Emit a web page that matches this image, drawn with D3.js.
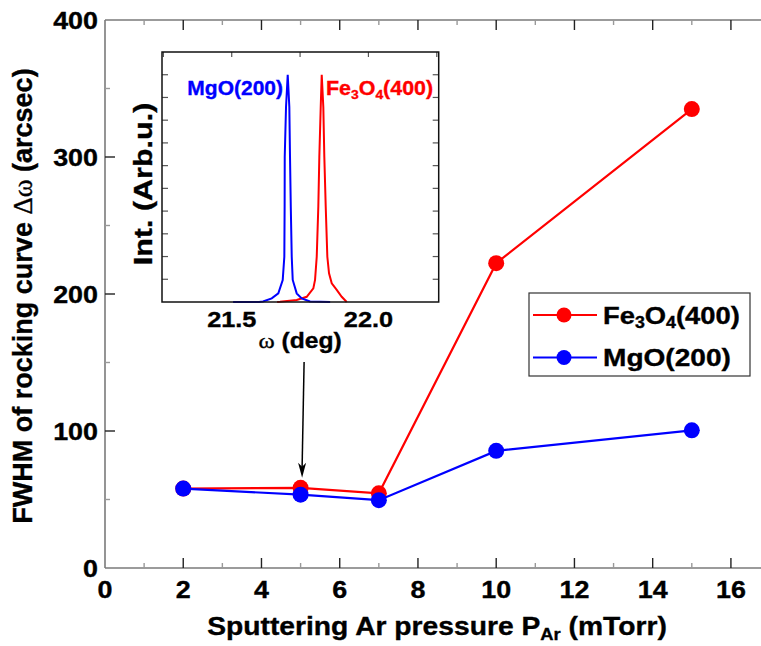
<!DOCTYPE html>
<html>
<head>
<meta charset="utf-8">
<script src="https://cdn.jsdelivr.net/npm/d3@7"></script>
<style>
  html, body { margin: 0; padding: 0; background: #fff; }
  svg { display: block; }
  text { font-family: "Liberation Sans", Arial, sans-serif; font-weight: bold; fill: #000; stroke: #000; stroke-width: 0.35px; }
</style>
</head>
<body>
<svg id="chart" width="761" height="646"></svg>
<script>
// Rocking-curve widths versus sputtering pressure
const pressure   = [2, 5, 7, 10, 15];
const fwhmFe3O4  = [58, 58.5, 54.5, 222.5, 335];
const fwhmMgO    = [58, 53.5, 49.5, 85.5, 100.5];
const xTickVals  = [0, 2, 4, 6, 8, 10, 12, 14, 16];
const yTickVals  = [0, 100, 200, 300, 400];

// Inset: rocking curves recorded at 5 mTorr (normalised intensity)
const mgoOmega = [21.505, 21.600, 21.6145, 21.6463, 21.6704, 21.6865, 21.6924, 21.6935, 21.6939, 21.6986, 21.7048,
                  21.7107, 21.7132, 21.716, 21.7195, 21.7231, 21.7377, 21.756, 21.7864, 21.860];
const mgoInt   = [0, 0, 0.02, 0.16, 0.38, 0.97, 1.99, 4.2, 6.38, 8.58, 10,
                  8.58, 6.38, 4.2, 1.99, 0.97, 0.38, 0.16, 0.02, 0];
const feOmega  = [21.666, 21.6767, 21.7377, 21.7743, 21.7985, 21.8047, 21.8109, 21.8167, 21.8204, 21.8255, 21.8292,
                  21.8350, 21.8387, 21.8438, 21.8497, 21.8559, 21.8658, 21.8840, 21.9023, 21.9206];
const feInt    = [0, 0.01, 0.09, 0.23, 0.60, 0.97, 1.99, 4.19, 6.38, 8.58, 10,
                  8.58, 6.38, 4.19, 1.99, 1.26, 0.82, 0.53, 0.23, 0];
const insetTickVals = [21.5, 22.0];

const RED = "#ff0000", BLUE = "#0000ff";
const svg = d3.select("#chart");

// horizontally stretched text helper
function label(parent, x, y, size, anchor, sx, fill) {
  const t = parent.append("text")
    .attr("transform", `translate(${x},${y}) scale(${sx},1)`)
    .attr("text-anchor", anchor)
    .style("font-size", size + "px");
  if (fill) t.style("fill", fill).style("stroke", fill);
  return t;
}
function chem(t, parts) {
  // parts: [text, isSubscript]
  parts.forEach(([s, sub]) => {
    const ts = t.append("tspan").text(s);
    if (sub) ts.attr("baseline-shift", "-30%").style("font-size", "65%");
  });
}

// ---------- main axes ----------
const x = d3.scaleLinear().domain([0, 17]).range([105, 105 + 17 * 39.12]);
const y = d3.scaleLinear().domain([0, 400]).range([568, 20]);
const AXIS = "#7a7a7a";

const g = svg.append("g");
// frame (right side lies beyond the canvas)
[[0, 0, 17, 0], [0, 400, 17, 400], [0, 0, 0, 400], [17, 0, 17, 400]].forEach(([a, b, c, d]) =>
  g.append("line").attr("x1", x(a)).attr("y1", y(b)).attr("x2", x(c)).attr("y2", y(d))
    .attr("stroke", AXIS).attr("stroke-width", 1.6));

const xMinor = d3.range(1, 17, 2);
const yMinor = d3.range(50, 400, 100);
// bottom and top ticks, pointing inward
[[y(0), -1], [y(400), 1]].forEach(([yy, dir]) => {
  xTickVals.filter(v => v > 0).forEach(v => g.append("line")
    .attr("x1", x(v)).attr("x2", x(v)).attr("y1", yy).attr("y2", yy + dir * 10)
    .attr("stroke", "#222").attr("stroke-width", 1.4));
  xMinor.forEach(v => g.append("line")
    .attr("x1", x(v)).attr("x2", x(v)).attr("y1", yy).attr("y2", yy + dir * 5)
    .attr("stroke", "#999").attr("stroke-width", 1.4));
});
yTickVals.filter(v => v > 0 && v < 400).forEach(v => g.append("line")
  .attr("x1", x(0)).attr("x2", x(0) + 10).attr("y1", y(v)).attr("y2", y(v))
  .attr("stroke", "#222").attr("stroke-width", 1.4));
yMinor.forEach(v => g.append("line")
  .attr("x1", x(0)).attr("x2", x(0) + 5).attr("y1", y(v)).attr("y2", y(v))
  .attr("stroke", "#999").attr("stroke-width", 1.4));

// tick labels
xTickVals.forEach(v => label(g, x(v), 598, 24, "middle", 1.12).text(v));
yTickVals.forEach(v => label(g, 98, y(v) + 8.5, 24, "end", 1.12).text(v));

// axis titles
const xt = label(g, 437, 635, 25, "middle", 1.13);
chem(xt, [["Sputtering Ar pressure P", false], ["Ar", true], [" (mTorr)", false]]);

const yt = g.append("text")
  .attr("transform", `translate(32,${(y(0) + y(400)) / 2 + 2}) rotate(-90)`)
  .attr("text-anchor", "middle").style("font-size", "27px");
yt.append("tspan").text("FWHM of rocking curve ");
yt.append("tspan").text("Δω").style("font-family", "'Liberation Serif', serif").style("font-weight", "normal");
yt.append("tspan").text(" (arcsec)");

// ---------- data ----------
const line = d3.line().x(d => x(d[0])).y(d => y(d[1]));
[[fwhmFe3O4, RED], [fwhmMgO, BLUE]].forEach(([vals, col]) => {
  const pts = pressure.map((p, i) => [p, vals[i]]);
  g.append("path").datum(pts).attr("d", line).attr("fill", "none").attr("stroke", col).attr("stroke-width", 2.2);
  g.selectAll(null).data(pts).enter().append("circle")
    .attr("cx", d => x(d[0])).attr("cy", d => y(d[1])).attr("r", 8).attr("fill", col);
});

// arrow pointing at the 5 mTorr sample
const ax = x(pressure[1]);
const tipY = y(fwhmFe3O4[1]) - 10;
g.append("line").attr("x1", ax + 3.5).attr("y1", 362).attr("x2", ax + 1.5).attr("y2", tipY - 10)
  .attr("stroke", "#000").attr("stroke-width", 1.5);
g.append("path")
  .attr("d", `M${ax + 1.5},${tipY} L${ax - 2.5},${tipY - 15} L${ax + 1.5},${tipY - 11} L${ax + 5.5},${tipY - 15} Z`)
  .attr("fill", "#000");

// ---------- legend ----------
const lg = svg.append("g");
lg.append("rect").attr("x", 529).attr("y", 293).attr("width", 221).attr("height", 83)
  .attr("fill", "#fff").attr("stroke", "#333").attr("stroke-width", 1.2);
[[RED, 315, 1.14, [["Fe", false], ["3", true], ["O", false], ["4", true], ["(400)", false]]],
 [BLUE, 357.5, 1.17, [["MgO(200)", false]]]].forEach(([col, yy, sx, parts]) => {
  lg.append("line").attr("x1", 533).attr("x2", 597).attr("y1", yy).attr("y2", yy).attr("stroke", col).attr("stroke-width", 2.2);
  lg.append("circle").attr("cx", 564).attr("cy", yy).attr("r", 7.5).attr("fill", col);
  chem(label(lg, 603, yy + 8.5, 24, "start", sx), parts);
});

// ---------- inset ----------
const ix = d3.scaleLinear().domain([21.245, 22.257]).range([162, 438.7]);
const iy = d3.scaleLinear().domain([0, 11]).range([302, 52]);
const ig = svg.append("g");
ig.append("rect").attr("x", 162).attr("y", 52).attr("width", 438.7 - 162).attr("height", 250).attr("fill", "#fff");

// side ticks
d3.range(1, 11).forEach(v => {
  ig.append("line").attr("x1", 162).attr("x2", 168).attr("y1", iy(v)).attr("y2", iy(v)).attr("stroke", "#555").attr("stroke-width", 1.2);
  ig.append("line").attr("x1", 438.7).attr("x2", 432.7).attr("y1", iy(v)).attr("y2", iy(v)).attr("stroke", "#555").attr("stroke-width", 1.2);
});
[21.25, 21.5, 21.75, 22.0, 22.25].forEach(v => {
  ig.append("line").attr("x1", ix(v)).attr("x2", ix(v)).attr("y1", 52).attr("y2", 57).attr("stroke", "#555").attr("stroke-width", 1.2);
});

const iline = d3.line().x(d => ix(d[0])).y(d => iy(d[1]));
[[feOmega, feInt, RED], [mgoOmega, mgoInt, BLUE]].forEach(([om, it, col]) => {
  ig.append("path").datum(om.map((o, i) => [o, it[i]])).attr("d", iline)
    .attr("fill", "none").attr("stroke", col).attr("stroke-width", 2);
});

ig.append("rect").attr("x", 162).attr("y", 52).attr("width", 438.7 - 162).attr("height", 250)
  .attr("fill", "none").attr("stroke", "#111").attr("stroke-width", 1.5);

insetTickVals.forEach(v => label(ig, ix(v), 327, 22, "middle", 1.15).text(v.toFixed(1)));
const ixt = label(ig, 300, 348, 22, "middle", 1.12);
ixt.append("tspan").text("ω").style("font-family", "'Liberation Serif', serif").style("font-weight", "normal");
ixt.append("tspan").text(" (deg)");

// rotated title, stretched along its length
ig.append("text").attr("transform", "translate(152,184) rotate(-90) scale(1.22,1)")
  .attr("text-anchor", "middle").style("font-size", "25px").text("Int. (Arb.u.)");

// peak labels
label(ig, 283, 95, 21, "end", 1.0, BLUE).text("MgO(200)");
chem(label(ig, 326, 95, 21, "start", 1.02, RED), [["Fe", false], ["3", true], ["O", false], ["4", true], ["(400)", false]]);
</script>
</body>
</html>
